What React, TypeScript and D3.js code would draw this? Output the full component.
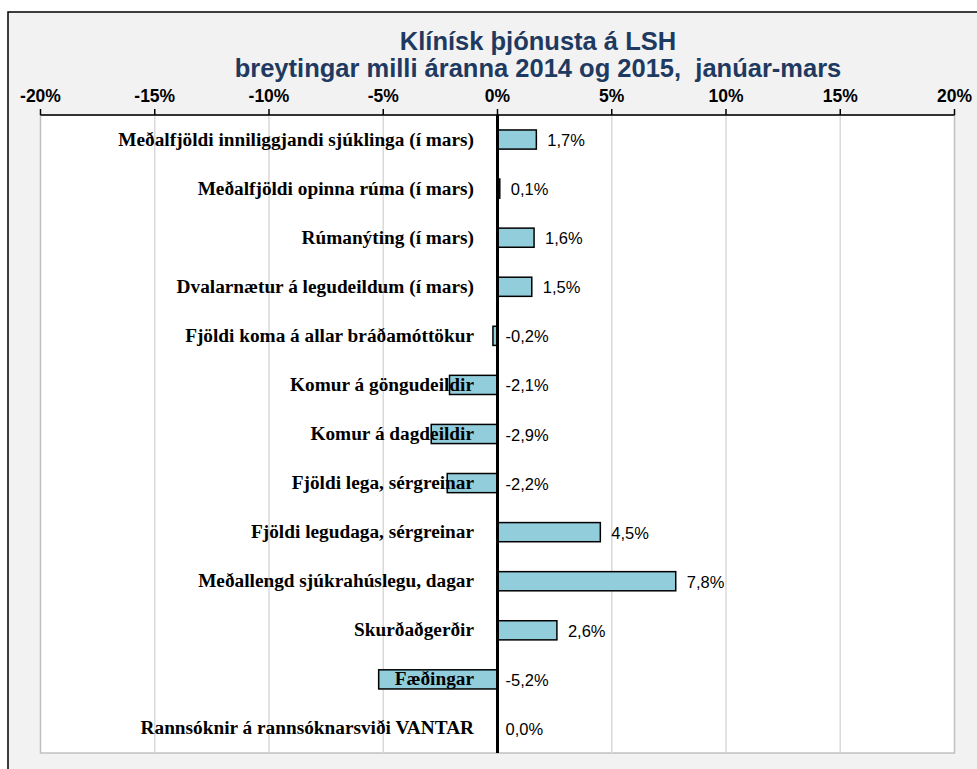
import React from "react";
import * as d3 from "d3";

const categories = [
  "Meðalfjöldi inniliggjandi sjúklinga (í mars)",
  "Meðalfjöldi opinna rúma (í mars)",
  "Rúmanýting (í mars)",
  "Dvalarnætur á legudeildum (í mars)",
  "Fjöldi koma á allar bráðamóttökur",
  "Komur á göngudeildir",
  "Komur á dagdeildir",
  "Fjöldi lega, sérgreinar",
  "Fjöldi legudaga, sérgreinar",
  "Meðallengd sjúkrahúslegu, dagar",
  "Skurðaðgerðir",
  "Fæðingar",
  "Rannsóknir á rannsóknarsviði VANTAR",
];
const values = [1.7, 0.1, 1.6, 1.5, -0.2, -2.1, -2.9, -2.2, 4.5, 7.8, 2.6, -5.2, 0.0];
const ticks = [-20, -15, -10, -5, 0, 5, 10, 15, 20];
const titleLines = ["Klínísk þjónusta á LSH", "breytingar milli áranna 2014 og 2015,  janúar-mars"];

const W = 977;
const H = 769;
const plot = { left: 40.5, right: 954.5, top: 115, bottom: 753 };

export default function App() {
  const x = d3.scaleLinear().domain([-20, 20]).range([plot.left, plot.right]);
  const y = d3
    .scaleBand<string>()
    .domain(categories)
    .range([plot.top, plot.bottom])
    .paddingInner(0.61)
    .paddingOuter(0.305);
  const fmt = (v: number) => v.toFixed(1).replace(".", ",") + "%";
  const x0 = x(0);

  return (
    <svg
      width={W}
      height={H}
      style={{ position: "absolute", left: 0, top: 0 }}
      xmlns="http://www.w3.org/2000/svg"
    >
      <rect x={0} y={0} width={W} height={H} fill="#ffffff" />
      <rect x={8} y={12} width={W + 20} height={H + 20} fill="#f2f2f2" stroke="#000" strokeWidth={1.5} />
      {/* title */}
      {titleLines.map((t, i) => (
        <text
          key={"title" + i}
          x={538}
          y={50 + i * 27}
          textAnchor="middle"
          fontFamily="Liberation Sans, Arial, sans-serif"
          fontWeight="bold"
          fontSize={25.5}
          fill="#1f3a60"
          style={{ whiteSpace: "pre" }}
        >
          {t}
        </text>
      ))}
      {/* plot area */}
      <rect
        x={plot.left}
        y={plot.top}
        width={plot.right - plot.left}
        height={plot.bottom - plot.top}
        fill="#ffffff"
        stroke="#c0c0c0"
        strokeWidth={1.5}
      />
      {ticks
        .filter((t) => t !== 0 && t !== -20 && t !== 20)
        .map((t) => (
          <line key={"g" + t} x1={x(t)} x2={x(t)} y1={plot.top} y2={plot.bottom} stroke="#d9d9d9" strokeWidth={1.5} />
        ))}
      {/* top axis */}
      <line x1={plot.left} x2={plot.right} y1={plot.top} y2={plot.top} stroke="#000" strokeWidth={1.5} />
      {ticks.map((t) => (
        <g key={"t" + t}>
          <line x1={x(t)} x2={x(t)} y1={plot.top - 6} y2={plot.top} stroke="#000" strokeWidth={1.5} />
          <text
            x={x(t)}
            y={102}
            textAnchor="middle"
            fontFamily="Liberation Sans, Arial, sans-serif"
            fontWeight="bold"
            fontSize={17.5}
            fill="#000"
          >
            {t + "%"}
          </text>
        </g>
      ))}
      {/* bars */}
      {categories.map((c, i) => {
        const v = values[i];
        const bx = Math.min(x(v), x0);
        const bw = Math.abs(x(v) - x0);
        const by = y(c)!;
        return (
          <rect key={"b" + i} x={bx} y={by} width={bw} height={y.bandwidth()} fill="#92cddc" stroke="#000" strokeWidth={1.5} />
        );
      })}
      {/* zero line */}
      <line x1={x0} x2={x0} y1={plot.top} y2={plot.bottom} stroke="#000" strokeWidth={3} />
      {/* category labels */}
      {categories.map((c, i) => (
        <text
          key={"c" + i}
          x={474}
          y={y(c)! + y.bandwidth() / 2 + 6}
          textAnchor="end"
          fontFamily="Liberation Serif, Times New Roman, serif"
          fontWeight="bold"
          fontSize={19.3}
          fill="#000"
        >
          {c}
        </text>
      ))}
      {/* value labels */}
      {categories.map((c, i) => {
        const v = values[i];
        const lx = v > 0 ? x(v) + 11 : x0 + 8;
        return (
          <text
            key={"v" + i}
            x={lx}
            y={y(c)! + y.bandwidth() / 2 + 6.5}
            textAnchor="start"
            fontFamily="Liberation Sans, Arial, sans-serif"
            fontSize={16.5}
            fill="#000"
          >
            {fmt(v)}
          </text>
        );
      })}
    </svg>
  );
}
